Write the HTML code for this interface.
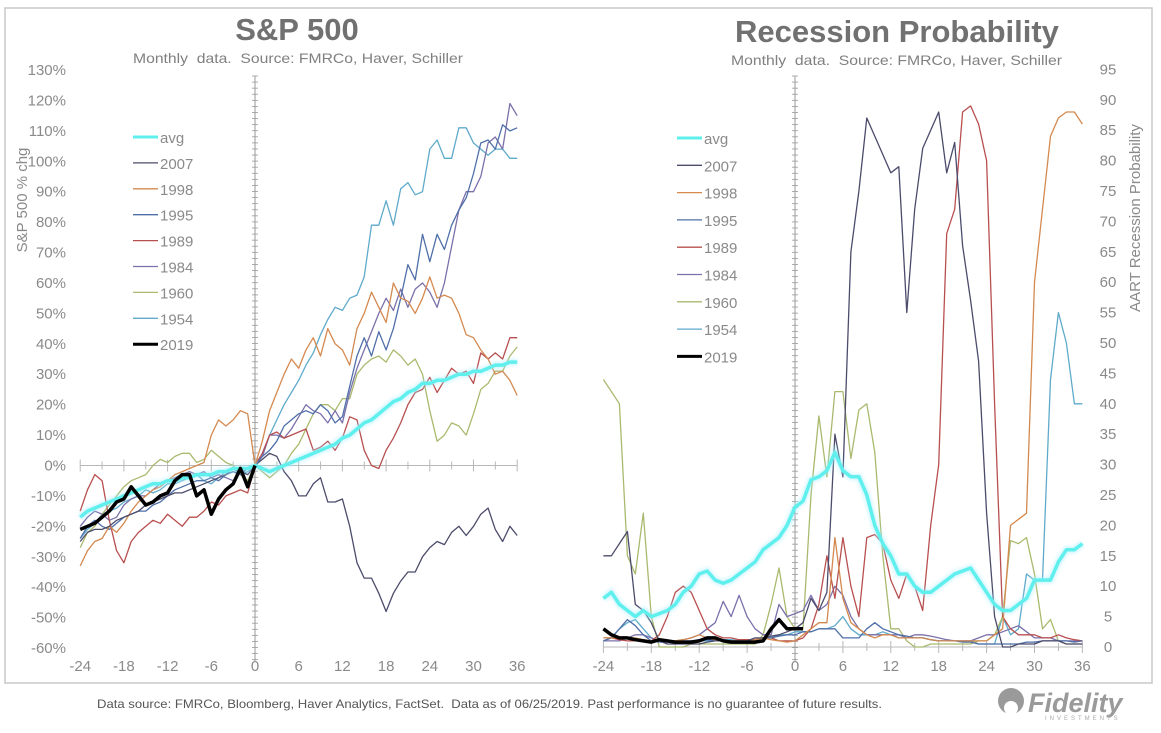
<!DOCTYPE html>
<html><head><meta charset="utf-8"><style>
body{margin:0;background:#fff;font-family:"Liberation Sans",sans-serif}
svg text{font-family:"Liberation Sans",sans-serif}
</style></head><body>
<svg id="c" width="1161" height="728" xmlns="http://www.w3.org/2000/svg">
<defs><filter id="glow" x="-5%" y="-5%" width="110%" height="110%"><feGaussianBlur stdDeviation="1.5"/></filter></defs>
<rect x="5" y="8" width="1147" height="675" fill="none" stroke="#c8c8c8" stroke-width="1.5"/>
<text x="297" y="40" text-anchor="middle" font-size="31" font-weight="bold" fill="#717171">S&amp;P 500</text>
<text x="133" y="63" textLength="330" lengthAdjust="spacingAndGlyphs" font-size="14" fill="#808080">Monthly&#160; data.&#160; Source: FMRCo, Haver, Schiller</text>
<text x="897" y="42" text-anchor="middle" font-size="31" font-weight="bold" fill="#717171">Recession Probability</text>
<text x="731" y="65" textLength="331" lengthAdjust="spacingAndGlyphs" font-size="14" fill="#808080">Monthly&#160; data.&#160; Source: FMRCo, Haver, Schiller</text>
<text transform="translate(27,200) rotate(-90)" text-anchor="middle" font-size="15" fill="#8a8a8a">S&amp;P 500 % chg</text>
<text transform="translate(1140,218) rotate(-90)" text-anchor="middle" font-size="15" fill="#8a8a8a">AART Recession Probability</text>
<text x="97" y="708" textLength="785" lengthAdjust="spacingAndGlyphs" font-size="12" fill="#555">Data source: FMRCo, Bloomberg, Haver Analytics, FactSet.&#160; Data as of 06/25/2019. Past performance is no guarantee of future results.</text>
<g>
<circle cx="1011" cy="701" r="13" fill="#9a9a9a"/>
<circle cx="1011" cy="708" r="7" fill="#fff"/>
<text x="1028" y="712" font-size="27" font-weight="bold" font-style="italic" fill="#9a9a9a">Fidelity</text>
<text x="1045" y="720" font-size="6" fill="#aaa" letter-spacing="3">INVESTMENTS</text>
</g>
<g id="L"></g><g id="R"></g>
</svg>
<script>
const months = [];
for (let m = -24; m <= 36; m++) months.push(m);
const seriesNames = ["avg","2007","1998","1995","1989","1984","1960","1954","2019"];
const seriesColors = ["#5ff0ee","#4b4b6b","#d4894f","#4f6fa9","#b84f4f","#7b70aa","#a9ba6f","#5faacb","#000"];
const leftTicks = [130,120,110,100,90,80,70,60,50,40,30,20,10,0,-10,-20,-30,-40,-50,-60];
const rightTicks = [95,90,85,80,75,70,65,60,55,50,45,40,35,30,25,20,15,10,5,0];
const xTickLabels = [-24,-18,-12,-6,0,6,12,18,24,30,36];

// S&P 500 % change, months -24..36
const spAvg = [-17,-15,-14,-13,-12,-11,-10,-9,-8,-7,-6,-6,-5,-5,-4,-4,-3,-3,-3,-2,-2,-1,-1,-1,0,-1,-2,-1,0,1,2,3,4,5,6,7,9,10,12,14,15,17,19,21,22,24,25,27,27,28,28,29,30,30,31,31,32,33,33,34,34];
const sp2007 = [-25,-22,-21,-21,-20,-18,-17,-16,-15,-13,-12,-11,-10,-9,-9,-8,-7,-6,-5,-4,-3,-1,-2,-3,0,2,4,3,-2,-5,-10,-10,-6,-4,-12,-12,-11,-20,-32,-37,-37,-42,-48,-42,-38,-35,-35,-30,-27,-25,-26,-22,-20,-23,-20,-16,-14,-21,-25,-20,-23];
const sp1998 = [-33,-28,-25,-24,-20,-22,-19,-15,-12,-10,-8,-7,-5,-3,-2,-1,0,1,10,15,13,15,18,17,0,8,18,24,30,35,32,38,42,36,45,40,38,33,45,50,57,52,47,60,55,54,50,55,62,55,56,55,50,43,42,38,35,30,31,28,23];
const sp1995 = [-24,-20,-18,-20,-21,-19,-17,-16,-15,-15,-13,-12,-10,-8,-7,-6,-5,-5,-4,-5,-3,-2,-3,-1,0,3,5,8,13,15,17,18,17,20,18,14,16,26,36,42,36,44,38,45,55,66,61,76,67,76,71,79,84,88,96,106,107,104,112,110,111];
const sp1989 = [-15,-8,-3,-5,-18,-28,-32,-25,-22,-20,-18,-19,-16,-18,-20,-17,-17,-15,-12,-13,-10,-9,-8,-9,0,4,10,11,9,10,11,12,5,6,8,5,9,16,15,5,0,-1,5,9,14,20,24,25,29,24,28,32,30,31,27,37,35,37,35,42,42];
const sp1984 = [-20,-17,-15,-16,-18,-17,-13,-11,-10,-10,-8,-6,-5,-4,-3,-2,-3,-2,-4,-3,-4,-5,-2,-1,0,3,10,10,9,12,16,20,18,17,14,18,14,24,32,38,44,50,55,51,58,52,58,60,57,52,60,72,84,90,90,95,106,108,104,119,115];
const sp1960 = [-27,-22,-20,-16,-13,-10,-7,-5,-4,-3,0,2,1,3,4,4,1,2,5,3,1,0,-3,-5,0,-2,-4,-2,0,4,7,12,17,20,20,18,22,22,30,33,35,36,34,38,36,33,35,30,18,8,10,14,13,10,17,25,27,31,31,36,39];
const sp1954 = [-24,-21,-19,-16,-15,-14,-12,-11,-10,-8,-9,-8,-6,-6,-5,-4,-3,-5,-6,-4,-2,-1,-3,-2,0,3,10,15,20,24,28,33,37,43,48,52,51,55,56,62,79,79,87,79,91,93,89,90,104,107,101,101,111,111,106,104,102,104,104,101,101];
const sp2019 = [-21,-20,-19,-17,-15,-12,-11,-7,-10,-13,-12,-10,-9,-5,-3,-3,-10,-8,-16,-11,-8,-6,-1,-7,0];

// Recession probability, months -24..36
const rpAvg = [8,9,7,6,5,6,5,5.5,6,7,9,10,12,12.5,11,10.5,11,12,13,14,16,17,18,20,23,24,27.5,28,29,32,29,28,28,25,20,17,15,12,12,10,9,9,10,11,12,12.5,13,11,9,7,6,6,7,8,11,11,11,14,16,16,17];
const rp2007 = [15,15,17,19,7,6,4,1,0.5,0.5,0.5,0.5,0.5,0.8,1,1,1,1,1,1.5,1.5,1.8,2,2.5,3,4,8,6,9,35,28,65,75,87,84,81,78,79,55,72,82,85,88,78,83,66,57,47,22,5,0,0,0.5,0.5,0.5,1,1,1,0.5,0.5,0.5];
const rp1998 = [1.5,1.5,1.5,1.5,1.5,1.2,1,1,1,1,1.2,1.5,2,1.5,1.2,1,1,1,1,1.2,1.5,1.2,1,0.8,1,2,3,4,4,18,8,4,3,2,1.5,2,2,1.5,1.5,1.5,1.5,1.2,1,1,1,1,1,1,1,2,3,20,21,22,60,72,84,87,88,88,86];
const rp1995 = [1,1.5,3,4.5,3.5,2,1,0.8,0.8,0.8,1,1,1.2,1.2,1,1,1,1,1,1.2,1.5,1.5,1.8,2,2,2.5,2.5,3,3,3,1.5,1.5,1.5,3,4,3,2.5,2,1.8,1.5,1.5,1.2,1,1,1,0.8,0.8,0.5,0.5,0.5,0.5,0.5,0.5,0.8,0.8,1,1,1,1,0.8,1];
const rp1989 = [1.5,1.5,1.2,1,1,1,1,2,5,9,10,9,6,3,2,1.5,1.5,1.2,1.2,1.2,1.5,1.5,1,1,1,1.5,3,7,15,8,18,10,5,18,18.5,17,11,8,12,10,6,20,30,68,72,88,89,86,80,40,5,3,2,2,2,1.5,1.5,2,1.5,1.2,1];
const rp1984 = [1,1,1,1.5,2,2,1.5,1,1,1,1.2,1.5,2,3,4,7.5,5,8.5,5,3,2,2,7,5,5.5,6,8.5,6,7,10,8.5,5,3,2,2,2,2,2,1.5,2,2,1.8,1.5,1.2,1,1,1,1.5,2,2,2.5,3,3.5,2.5,1.5,1.5,1.5,1,1,1,1];
const rp1960 = [44,42,40,15,12,22,5,0,0,0,0,0.5,0.5,0.5,0.5,0.5,0.5,0.5,0.5,0.5,2,7,13,5,3,3,25,38,28,42,42,31,39,40,32,15,3,3,1,0,0,0.5,0.5,0.5,0.5,0.5,0.5,1,1,2,5,17.5,17,18,12,3,4.5,1,0.5,0.5,0.5];
const rp1954 = [1,1.5,3,4,4.5,3,1.5,1,0.8,0.8,0.8,1,1,1,1,1.2,1.2,1,1,1,1.2,1.5,2,2,2.5,2.5,2.5,3,3,3.5,5,3,2,2,2,2.5,2,1.5,1.5,1.5,1.5,1.2,1,1,1,1,1,0.5,0.5,0.5,5,2,3,12,11,11,44,55,50,40,40];
const rp2019 = [3,2,1.5,1.5,1.2,1,0.8,1.2,1,0.8,0.8,0.8,1,1.5,1.5,1,0.8,0.8,0.8,0.8,1,3,4.5,3,3,3];

const svg = document.getElementById('c');
const NS = 'http://www.w3.org/2000/svg';
function mk(tag, attrs, parent) {
  const e = document.createElementNS(NS, tag);
  for (const k in attrs) e.setAttribute(k, attrs[k]);
  parent.appendChild(e);
  return e;
}

const lx = m => 255 + m * 7.283;
const ly = v => 465.5 - v * 3.042;
const rx = m => 795 + m * 7.983;
const ry = v => 647 - v * 6.08;

function drawPanel(gid, xf, yf, yTicks, yFmt, yLabelX, anchor, zeroY, yMin, yMax, sets, panel) {
  const g = document.getElementById(gid);
  yTicks.forEach(t => {
    const tx = mk('text', {x: yLabelX, y: yf(t) + 5, 'text-anchor': anchor, 'font-size': 15, fill: '#8a8a8a'}, g);
    tx.textContent = yFmt(t);
    
    
  });
  xTickLabels.forEach(t => {
    const tx = mk('text', {x: xf(t), y: 671, 'text-anchor': 'middle', 'font-size': 15, fill: '#8a8a8a'}, g);
    tx.textContent = t;
    
    
  });
  const hx = mk('line', {x1: xf(-24), x2: xf(36), y1: zeroY, y2: zeroY, stroke: '#b8b8b8', 'stroke-width': 1}, g);
  
  
  for (let m = -24; m <= 36; m += 3) {
    const h = m % 6 === 0 ? 6 : 4;
    mk('line', {x1: xf(m), x2: xf(m), y1: zeroY - h, y2: zeroY + h, stroke: '#b8b8b8'}, g);
  }
  const vx = mk('line', {x1: xf(0), x2: xf(0), y1: yMax, y2: yMin, stroke: '#999', 'stroke-width': 1}, g);
  
  
  for (let y = yMax; y <= yMin; y += 6.08) {
    mk('line', {x1: xf(0) - 3, x2: xf(0) + 3, y1: y, y2: y, stroke: '#999', 'stroke-width': 0.8}, g);
  }
  sets.forEach(s => {
    const pts = s.data.map((v, i) => xf(months[i]).toFixed(1) + ',' + yf(v).toFixed(1)).join(' ');
    if (s.name === 'avg') {
      const gl = mk('polyline', {points: pts, fill: 'none', stroke: '#aef', 'stroke-width': 7, opacity: 0.5, filter: 'url(#glow)'}, g);
      
      
    }
    const p = mk('polyline', {points: pts, fill: 'none', stroke: s.color, 'stroke-width': s.w, 'stroke-linejoin': 'round'}, g);
    
    
  });
}

function legend(gid, x, y0, dy, panel) {
  const g = document.getElementById(gid);
  seriesNames.forEach((n, i) => {
    const y = y0 + i * dy;
    const ln = mk('line', {x1: x, x2: x + 25, y1: y, y2: y, stroke: seriesColors[i], 'stroke-width': (n === 'avg' || n === '2019') ? 3 : 1.3}, g);
    
    
    const t = mk('text', {x: x + 27, y: y + 6, 'font-size': 15, fill: '#8a8a8a'}, g);
    t.textContent = n;
    
    
  });
}

const leftSets = [
  {name:'1954', data: sp1954, color: seriesColors[7], w: 1.3},
  {name:'1960', data: sp1960, color: seriesColors[6], w: 1.3},
  {name:'1984', data: sp1984, color: seriesColors[5], w: 1.3},
  {name:'1989', data: sp1989, color: seriesColors[4], w: 1.3},
  {name:'1995', data: sp1995, color: seriesColors[3], w: 1.3},
  {name:'1998', data: sp1998, color: seriesColors[2], w: 1.3},
  {name:'2007', data: sp2007, color: seriesColors[1], w: 1.3},
  {name:'avg', data: spAvg, color: seriesColors[0], w: 3.5},
  {name:'2019', data: sp2019, color: seriesColors[8], w: 3.5}
];
const rightSets = [
  {name:'1954', data: rp1954, color: seriesColors[7], w: 1.3},
  {name:'1960', data: rp1960, color: seriesColors[6], w: 1.3},
  {name:'1984', data: rp1984, color: seriesColors[5], w: 1.3},
  {name:'1989', data: rp1989, color: seriesColors[4], w: 1.3},
  {name:'1995', data: rp1995, color: seriesColors[3], w: 1.3},
  {name:'1998', data: rp1998, color: seriesColors[2], w: 1.3},
  {name:'2007', data: rp2007, color: seriesColors[1], w: 1.3},
  {name:'avg', data: rpAvg, color: seriesColors[0], w: 3.5},
  {name:'2019', data: rp2019, color: seriesColors[8], w: 3.5}
];

drawPanel('L', lx, ly, leftTicks, t => t + '%', 66, 'end', ly(0), 662, 76, leftSets, 'left');
drawPanel('R', rx, ry, rightTicks, t => String(t), 1108, 'middle', ry(0), 662, 76, rightSets, 'right');
legend('L', 133, 137, 25.9, 'left');
legend('R', 677, 138, 27.3, 'right');
</script>
</body></html>
